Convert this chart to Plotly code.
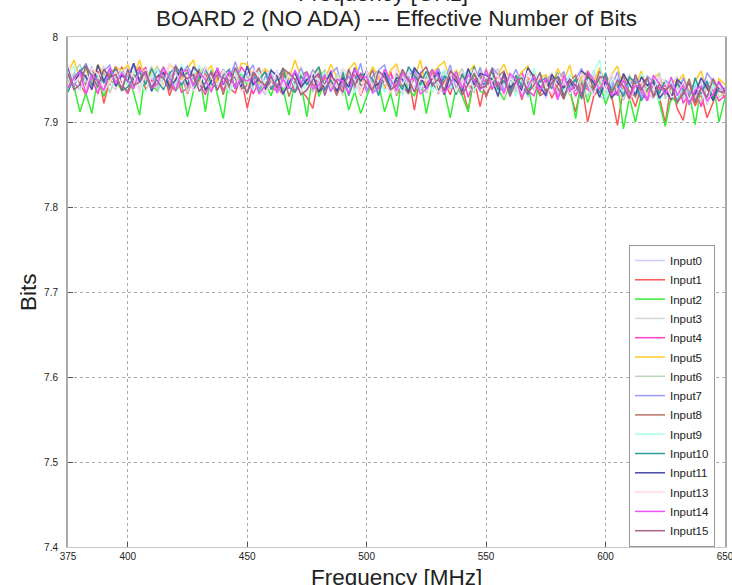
import plotly.graph_objects as go

freq_mhz = [375, 377.5, 380, 382.5, 385, 387.5, 390, 392.5, 395, 397.5,
            400, 402.5, 405, 407.5, 410, 412.5, 415, 417.5, 420, 422.5,
            425, 427.5, 430, 432.5, 435, 437.5, 440, 442.5, 445, 447.5,
            450, 452.5, 455, 457.5, 460, 462.5, 465, 467.5, 470, 472.5,
            475, 477.5, 480, 482.5, 485, 487.5, 490, 492.5, 495, 497.5,
            500, 502.5, 505, 507.5, 510, 512.5, 515, 517.5, 520, 522.5,
            525, 527.5, 530, 532.5, 535, 537.5, 540, 542.5, 545, 547.5,
            550, 552.5, 555, 557.5, 560, 562.5, 565, 567.5, 570, 572.5,
            575, 577.5, 580, 582.5, 585, 587.5, 590, 592.5, 595, 597.5,
            600, 602.5, 605, 607.5, 610, 612.5, 615, 617.5, 620, 622.5,
            625, 627.5, 630, 632.5, 635, 637.5, 640, 642.5, 645, 647.5,
            650]

input0 = [7.954, 7.941, 7.962, 7.947, 7.966, 7.937, 7.952, 7.959, 7.944, 7.963,
          7.963, 7.948, 7.940, 7.957, 7.953, 7.935, 7.959, 7.946, 7.968, 7.947,
          7.940, 7.951, 7.958, 7.943, 7.962, 7.947, 7.937, 7.956, 7.964, 7.942,
          7.940, 7.957, 7.945, 7.932, 7.953, 7.960, 7.937, 7.950, 7.943, 7.965,
          7.947, 7.962, 7.940, 7.951, 7.935, 7.957, 7.944, 7.934, 7.954, 7.949,
          7.953, 7.963, 7.934, 7.949, 7.956, 7.937, 7.951, 7.944, 7.940, 7.959,
          7.956, 7.943, 7.962, 7.935, 7.947, 7.954, 7.931, 7.957, 7.950, 7.938,
          7.942, 7.952, 7.963, 7.936, 7.947, 7.939, 7.957, 7.929, 7.949, 7.954,
          7.928, 7.946, 7.953, 7.959, 7.936, 7.949, 7.939, 7.945, 7.955, 7.930,
          7.927, 7.946, 7.942, 7.952, 7.931, 7.944, 7.956, 7.934, 7.928, 7.947,
          7.946, 7.924, 7.939, 7.951, 7.932, 7.927, 7.942, 7.949, 7.926, 7.936,
          7.935]
input1 = [7.940, 7.957, 7.945, 7.932, 7.953, 7.960, 7.922, 7.950, 7.943, 7.965,
          7.944, 7.954, 7.965, 7.938, 7.949, 7.941, 7.959, 7.931, 7.951, 7.956,
          7.933, 7.952, 7.948, 7.958, 7.937, 7.950, 7.962, 7.940, 7.934, 7.953,
          7.916, 7.946, 7.953, 7.938, 7.957, 7.942, 7.932, 7.951, 7.959, 7.937,
          7.929, 7.916, 7.954, 7.960, 7.937, 7.950, 7.940, 7.946, 7.956, 7.931,
          7.948, 7.935, 7.956, 7.941, 7.960, 7.931, 7.946, 7.953, 7.914, 7.957,
          7.944, 7.959, 7.937, 7.948, 7.932, 7.954, 7.941, 7.914, 7.951, 7.918,
          7.951, 7.938, 7.957, 7.930, 7.942, 7.949, 7.926, 7.952, 7.945, 7.933,
          7.950, 7.928, 7.943, 7.955, 7.936, 7.912, 7.946, 7.900, 7.930, 7.940,
          7.946, 7.931, 7.896, 7.940, 7.936, 7.918, 7.942, 7.929, 7.951, 7.930,
          7.899, 7.945, 7.916, 7.902, 7.938, 7.919, 7.933, 7.905, 7.922, 7.941,
          7.928]
input2 = [7.955, 7.942, 7.912, 7.934, 7.910, 7.953, 7.930, 7.956, 7.949, 7.937,
          7.956, 7.934, 7.908, 7.961, 7.942, 7.937, 7.952, 7.959, 7.936, 7.946,
          7.906, 7.936, 7.957, 7.912, 7.961, 7.932, 7.904, 7.954, 7.939, 7.958,
          7.943, 7.958, 7.936, 7.947, 7.931, 7.953, 7.940, 7.908, 7.950, 7.945,
          7.906, 7.959, 7.930, 7.945, 7.952, 7.933, 7.947, 7.914, 7.936, 7.910,
          7.930, 7.949, 7.945, 7.912, 7.934, 7.906, 7.959, 7.937, 7.931, 7.950,
          7.910, 7.945, 7.952, 7.937, 7.905, 7.941, 7.931, 7.912, 7.958, 7.936,
          7.934, 7.951, 7.939, 7.926, 7.947, 7.954, 7.931, 7.944, 7.908, 7.959,
          7.936, 7.946, 7.957, 7.930, 7.941, 7.904, 7.951, 7.923, 7.943, 7.948,
          7.921, 7.939, 7.946, 7.892, 7.929, 7.900, 7.932, 7.938, 7.948, 7.923,
          7.895, 7.930, 7.922, 7.939, 7.935, 7.897, 7.941, 7.928, 7.950, 7.900,
          7.928]
input3 = [7.937, 7.956, 7.952, 7.962, 7.941, 7.954, 7.966, 7.944, 7.938, 7.957,
          7.956, 7.966, 7.937, 7.952, 7.959, 7.940, 7.954, 7.947, 7.943, 7.962,
          7.949, 7.964, 7.942, 7.953, 7.937, 7.959, 7.946, 7.936, 7.956, 7.951,
          7.932, 7.950, 7.957, 7.963, 7.940, 7.953, 7.943, 7.949, 7.959, 7.934,
          7.956, 7.943, 7.962, 7.935, 7.947, 7.954, 7.931, 7.957, 7.950, 7.938,
          7.957, 7.935, 7.950, 7.962, 7.943, 7.938, 7.953, 7.960, 7.937, 7.947,
          7.940, 7.957, 7.945, 7.932, 7.953, 7.960, 7.937, 7.950, 7.943, 7.965,
          7.936, 7.947, 7.954, 7.939, 7.958, 7.943, 7.933, 7.952, 7.960, 7.938,
          7.956, 7.941, 7.933, 7.950, 7.946, 7.928, 7.952, 7.939, 7.961, 7.940,
          7.944, 7.931, 7.952, 7.937, 7.956, 7.927, 7.942, 7.949, 7.934, 7.953,
          7.933, 7.943, 7.954, 7.927, 7.938, 7.930, 7.948, 7.920, 7.940, 7.945,
          7.933]
input4 = [7.961, 7.946, 7.938, 7.955, 7.951, 7.933, 7.957, 7.944, 7.966, 7.945,
          7.933, 7.951, 7.958, 7.964, 7.941, 7.954, 7.944, 7.950, 7.960, 7.935,
          7.940, 7.957, 7.945, 7.932, 7.953, 7.960, 7.937, 7.950, 7.943, 7.965,
          7.955, 7.933, 7.948, 7.960, 7.941, 7.936, 7.951, 7.958, 7.935, 7.945,
          7.949, 7.936, 7.957, 7.942, 7.961, 7.932, 7.947, 7.954, 7.939, 7.958,
          7.936, 7.947, 7.954, 7.939, 7.958, 7.943, 7.933, 7.952, 7.960, 7.938,
          7.942, 7.952, 7.963, 7.936, 7.947, 7.939, 7.957, 7.929, 7.949, 7.954,
          7.930, 7.949, 7.945, 7.955, 7.934, 7.947, 7.959, 7.937, 7.931, 7.950,
          7.947, 7.957, 7.928, 7.943, 7.950, 7.931, 7.945, 7.938, 7.934, 7.953,
          7.938, 7.953, 7.931, 7.942, 7.926, 7.948, 7.935, 7.925, 7.945, 7.940,
          7.943, 7.930, 7.949, 7.922, 7.934, 7.941, 7.918, 7.944, 7.937, 7.925,
          7.931]
input5 = [7.958, 7.973, 7.951, 7.962, 7.946, 7.968, 7.955, 7.945, 7.965, 7.960,
          7.967, 7.954, 7.973, 7.946, 7.958, 7.965, 7.942, 7.968, 7.961, 7.949,
          7.963, 7.973, 7.944, 7.959, 7.966, 7.947, 7.961, 7.954, 7.950, 7.969,
          7.968, 7.953, 7.945, 7.962, 7.958, 7.940, 7.964, 7.951, 7.973, 7.952,
          7.946, 7.957, 7.964, 7.949, 7.968, 7.953, 7.943, 7.962, 7.970, 7.948,
          7.948, 7.965, 7.953, 7.940, 7.961, 7.968, 7.945, 7.958, 7.951, 7.973,
          7.940, 7.958, 7.965, 7.971, 7.948, 7.961, 7.951, 7.957, 7.967, 7.942,
          7.963, 7.941, 7.956, 7.968, 7.949, 7.944, 7.959, 7.966, 7.943, 7.953,
          7.955, 7.942, 7.963, 7.948, 7.967, 7.938, 7.953, 7.960, 7.945, 7.964,
          7.945, 7.955, 7.966, 7.939, 7.950, 7.942, 7.960, 7.932, 7.952, 7.957,
          7.931, 7.950, 7.946, 7.956, 7.935, 7.948, 7.960, 7.938, 7.932, 7.951,
          7.944]
input6 = [7.947, 7.957, 7.968, 7.941, 7.952, 7.944, 7.962, 7.934, 7.954, 7.959,
          7.954, 7.941, 7.962, 7.947, 7.966, 7.937, 7.952, 7.959, 7.944, 7.963,
          7.934, 7.952, 7.959, 7.965, 7.942, 7.955, 7.945, 7.951, 7.961, 7.936,
          7.956, 7.943, 7.962, 7.935, 7.947, 7.954, 7.931, 7.957, 7.950, 7.938,
          7.957, 7.935, 7.950, 7.962, 7.943, 7.938, 7.953, 7.960, 7.937, 7.947,
          7.960, 7.945, 7.937, 7.954, 7.950, 7.932, 7.956, 7.943, 7.965, 7.944,
          7.934, 7.953, 7.949, 7.959, 7.938, 7.951, 7.963, 7.941, 7.935, 7.954,
          7.951, 7.961, 7.932, 7.947, 7.954, 7.935, 7.949, 7.942, 7.938, 7.957,
          7.943, 7.958, 7.936, 7.947, 7.931, 7.953, 7.940, 7.930, 7.950, 7.945,
          7.933, 7.950, 7.938, 7.925, 7.946, 7.953, 7.930, 7.943, 7.936, 7.958,
          7.927, 7.938, 7.945, 7.930, 7.949, 7.934, 7.924, 7.943, 7.951, 7.929,
          7.935]
input7 = [7.964, 7.942, 7.957, 7.969, 7.950, 7.945, 7.960, 7.967, 7.944, 7.954,
          7.954, 7.969, 7.947, 7.958, 7.942, 7.964, 7.951, 7.941, 7.961, 7.956,
          7.966, 7.951, 7.943, 7.960, 7.956, 7.938, 7.962, 7.949, 7.971, 7.950,
          7.957, 7.967, 7.938, 7.953, 7.960, 7.941, 7.955, 7.948, 7.944, 7.963,
          7.944, 7.961, 7.949, 7.936, 7.957, 7.964, 7.941, 7.954, 7.947, 7.969,
          7.936, 7.954, 7.961, 7.967, 7.944, 7.957, 7.947, 7.953, 7.963, 7.938,
          7.955, 7.942, 7.963, 7.948, 7.967, 7.938, 7.953, 7.960, 7.945, 7.964,
          7.942, 7.964, 7.956, 7.937, 7.947, 7.962, 7.943, 7.958, 7.951, 7.940,
          7.934, 7.953, 7.949, 7.959, 7.938, 7.951, 7.963, 7.941, 7.935, 7.954,
          7.953, 7.940, 7.959, 7.932, 7.944, 7.951, 7.928, 7.954, 7.947, 7.935,
          7.949, 7.944, 7.924, 7.952, 7.934, 7.942, 7.931, 7.958, 7.947, 7.937,
          7.940]
input8 = [7.940, 7.951, 7.958, 7.943, 7.962, 7.947, 7.937, 7.956, 7.964, 7.942,
          7.936, 7.955, 7.951, 7.961, 7.940, 7.953, 7.965, 7.943, 7.937, 7.956,
          7.957, 7.944, 7.963, 7.936, 7.948, 7.955, 7.932, 7.958, 7.951, 7.939,
          7.943, 7.953, 7.964, 7.937, 7.948, 7.940, 7.958, 7.930, 7.950, 7.955,
          7.959, 7.944, 7.936, 7.953, 7.949, 7.931, 7.955, 7.942, 7.964, 7.943,
          7.946, 7.961, 7.939, 7.950, 7.934, 7.956, 7.943, 7.933, 7.953, 7.948,
          7.952, 7.962, 7.933, 7.948, 7.955, 7.936, 7.950, 7.943, 7.939, 7.958,
          7.929, 7.947, 7.954, 7.960, 7.937, 7.950, 7.940, 7.946, 7.956, 7.931,
          7.935, 7.952, 7.940, 7.927, 7.948, 7.955, 7.932, 7.945, 7.938, 7.960,
          7.949, 7.927, 7.942, 7.954, 7.935, 7.930, 7.945, 7.952, 7.929, 7.939,
          7.939, 7.926, 7.947, 7.932, 7.951, 7.922, 7.937, 7.944, 7.929, 7.948,
          7.933]
input9 = [7.956, 7.966, 7.937, 7.952, 7.959, 7.940, 7.954, 7.947, 7.943, 7.962,
          7.943, 7.960, 7.948, 7.935, 7.956, 7.963, 7.940, 7.953, 7.946, 7.968,
          7.946, 7.956, 7.967, 7.940, 7.951, 7.943, 7.961, 7.933, 7.953, 7.958,
          7.951, 7.938, 7.959, 7.944, 7.963, 7.934, 7.949, 7.956, 7.941, 7.960,
          7.934, 7.953, 7.949, 7.959, 7.938, 7.951, 7.963, 7.941, 7.935, 7.954,
          7.956, 7.943, 7.962, 7.935, 7.947, 7.954, 7.931, 7.957, 7.950, 7.938,
          7.957, 7.935, 7.950, 7.962, 7.943, 7.938, 7.953, 7.960, 7.937, 7.947,
          7.958, 7.943, 7.935, 7.952, 7.948, 7.930, 7.954, 7.941, 7.963, 7.942,
          7.934, 7.945, 7.952, 7.937, 7.956, 7.941, 7.931, 7.950, 7.958, 7.973,
          7.927, 7.952, 7.942, 7.936, 7.946, 7.933, 7.956, 7.950, 7.943, 7.925,
          7.936, 7.951, 7.929, 7.940, 7.924, 7.946, 7.933, 7.923, 7.943, 7.938,
          7.935]
input10 = [7.935, 7.953, 7.960, 7.966, 7.943, 7.956, 7.946, 7.952, 7.962, 7.937,
           7.941, 7.952, 7.959, 7.944, 7.963, 7.948, 7.938, 7.957, 7.965, 7.943,
           7.959, 7.937, 7.952, 7.964, 7.945, 7.940, 7.955, 7.962, 7.939, 7.949,
           7.934, 7.953, 7.949, 7.959, 7.938, 7.951, 7.963, 7.941, 7.935, 7.954,
           7.944, 7.954, 7.965, 7.938, 7.949, 7.941, 7.959, 7.931, 7.951, 7.956,
           7.956, 7.951, 7.931, 7.959, 7.941, 7.949, 7.938, 7.965, 7.954, 7.944,
           7.960, 7.945, 7.937, 7.954, 7.950, 7.932, 7.956, 7.943, 7.965, 7.944,
           7.945, 7.960, 7.938, 7.949, 7.933, 7.955, 7.942, 7.932, 7.952, 7.947,
           7.952, 7.939, 7.958, 7.931, 7.943, 7.950, 7.927, 7.953, 7.946, 7.934,
           7.958, 7.936, 7.943, 7.930, 7.953, 7.946, 7.925, 7.938, 7.950, 7.933,
           7.949, 7.930, 7.945, 7.938, 7.923, 7.952, 7.933, 7.948, 7.927, 7.940,
           7.936]
input11 = [7.964, 7.945, 7.960, 7.953, 7.938, 7.967, 7.948, 7.963, 7.942, 7.955,
           7.948, 7.969, 7.947, 7.960, 7.936, 7.954, 7.958, 7.941, 7.949, 7.964,
           7.943, 7.965, 7.957, 7.938, 7.948, 7.963, 7.944, 7.959, 7.952, 7.941,
           7.966, 7.944, 7.951, 7.938, 7.961, 7.954, 7.933, 7.946, 7.958, 7.941,
           7.950, 7.955, 7.935, 7.945, 7.958, 7.936, 7.952, 7.941, 7.963, 7.948,
           7.960, 7.941, 7.945, 7.958, 7.938, 7.952, 7.950, 7.935, 7.964, 7.954,
           7.939, 7.951, 7.958, 7.932, 7.955, 7.948, 7.936, 7.963, 7.944, 7.957,
           7.955, 7.950, 7.930, 7.958, 7.940, 7.948, 7.937, 7.964, 7.953, 7.943,
           7.931, 7.956, 7.946, 7.940, 7.950, 7.937, 7.960, 7.954, 7.947, 7.929,
           7.948, 7.929, 7.935, 7.957, 7.945, 7.932, 7.953, 7.943, 7.947, 7.928,
           7.937, 7.927, 7.950, 7.943, 7.928, 7.933, 7.952, 7.940, 7.925, 7.947,
           7.936]
input13 = [7.968, 7.946, 7.953, 7.940, 7.963, 7.956, 7.935, 7.948, 7.960, 7.943,
           7.959, 7.954, 7.934, 7.962, 7.944, 7.952, 7.941, 7.968, 7.957, 7.947,
           7.956, 7.937, 7.943, 7.965, 7.953, 7.940, 7.961, 7.951, 7.955, 7.936,
           7.940, 7.962, 7.954, 7.935, 7.945, 7.960, 7.941, 7.956, 7.949, 7.938,
           7.934, 7.959, 7.949, 7.943, 7.953, 7.940, 7.963, 7.957, 7.950, 7.932,
           7.960, 7.941, 7.956, 7.949, 7.934, 7.963, 7.944, 7.959, 7.938, 7.951,
           7.949, 7.954, 7.934, 7.944, 7.957, 7.935, 7.951, 7.940, 7.962, 7.947,
           7.936, 7.948, 7.955, 7.929, 7.952, 7.945, 7.933, 7.960, 7.941, 7.954,
           7.943, 7.933, 7.956, 7.949, 7.934, 7.939, 7.958, 7.946, 7.931, 7.953,
           7.937, 7.958, 7.936, 7.949, 7.925, 7.943, 7.947, 7.930, 7.938, 7.953,
           7.948, 7.929, 7.933, 7.946, 7.926, 7.940, 7.938, 7.923, 7.952, 7.942,
           7.934]
input14 = [7.940, 7.952, 7.959, 7.933, 7.956, 7.949, 7.937, 7.964, 7.945, 7.958,
           7.949, 7.939, 7.962, 7.955, 7.940, 7.945, 7.964, 7.952, 7.937, 7.959,
           7.961, 7.942, 7.957, 7.950, 7.935, 7.964, 7.945, 7.960, 7.939, 7.952,
           7.948, 7.953, 7.933, 7.943, 7.956, 7.934, 7.950, 7.939, 7.961, 7.946,
           7.958, 7.939, 7.943, 7.956, 7.936, 7.950, 7.948, 7.933, 7.962, 7.952,
           7.953, 7.934, 7.940, 7.962, 7.950, 7.937, 7.958, 7.948, 7.952, 7.933,
           7.939, 7.961, 7.953, 7.934, 7.944, 7.959, 7.940, 7.955, 7.948, 7.937,
           7.962, 7.940, 7.947, 7.934, 7.957, 7.950, 7.929, 7.942, 7.954, 7.937,
           7.951, 7.946, 7.926, 7.954, 7.936, 7.944, 7.933, 7.960, 7.949, 7.939,
           7.951, 7.932, 7.936, 7.949, 7.929, 7.943, 7.941, 7.926, 7.955, 7.945,
           7.932, 7.953, 7.931, 7.944, 7.920, 7.938, 7.942, 7.925, 7.933, 7.948,
           7.933]
input15 = [7.957, 7.938, 7.944, 7.966, 7.954, 7.941, 7.962, 7.952, 7.956, 7.937,
           7.962, 7.943, 7.947, 7.960, 7.940, 7.954, 7.952, 7.937, 7.966, 7.956,
           7.951, 7.956, 7.936, 7.946, 7.959, 7.937, 7.953, 7.942, 7.964, 7.949,
           7.934, 7.959, 7.949, 7.943, 7.953, 7.940, 7.963, 7.957, 7.950, 7.932,
           7.938, 7.950, 7.957, 7.931, 7.954, 7.947, 7.935, 7.962, 7.943, 7.956,
           7.947, 7.937, 7.960, 7.953, 7.938, 7.943, 7.962, 7.950, 7.935, 7.957,
           7.965, 7.943, 7.950, 7.937, 7.960, 7.953, 7.932, 7.945, 7.957, 7.940,
           7.942, 7.963, 7.941, 7.954, 7.930, 7.948, 7.952, 7.935, 7.943, 7.958,
           7.934, 7.946, 7.953, 7.927, 7.950, 7.943, 7.931, 7.958, 7.939, 7.952,
           7.953, 7.934, 7.949, 7.942, 7.927, 7.956, 7.937, 7.952, 7.931, 7.944,
           7.938, 7.943, 7.923, 7.933, 7.946, 7.924, 7.940, 7.929, 7.951, 7.936,
           7.935]

series_names = ["Input0", "Input1", "Input2", "Input3", "Input4", "Input5",
                "Input6", "Input7", "Input8", "Input9", "Input10", "Input11",
                "Input13", "Input14", "Input15"]
series_values = [input0, input1, input2, input3, input4, input5, input6,
                 input7, input8, input9, input10, input11, input13, input14,
                 input15]
series_colors = ["#c8c8ff", "#ff5555", "#33ee33", "#d6d6d6", "#ff44c8",
                 "#ffcc22", "#bcd6bc", "#9a9aff", "#b87266", "#a8ffe8",
                 "#2f9a9a", "#4a4aa8", "#ffd8ee", "#ee55ff", "#a86088"]

y_tickvals = [7.4, 7.5, 7.6, 7.7, 7.8, 7.9, 8.0]
y_ticktext = ["7.4", "7.5", "7.6", "7.7", "7.8", "7.9", "8"]
x_tickvals = [375, 400, 450, 500, 550, 600, 650]
x_ticktext = ["375", "400", "450", "500", "550", "600", "650"]

fig = go.Figure()
for name, vals, col in zip(series_names, series_values, series_colors):
    fig.add_trace(go.Scatter(x=freq_mhz, y=vals, mode="lines", name=name,
                             legendgroup=name,
                             line=dict(color=col, width=1.5)))

fig.update_layout(
    width=732, height=585,
    margin=dict(l=68, r=7, t=37, b=38),
    paper_bgcolor="white", plot_bgcolor="white",
    font=dict(family="Liberation Sans, Arial, sans-serif", color="#222"),
    title=dict(text="BOARD 2 (NO ADA) --- Effective Number of Bits",
               x=0.5, xref="paper", xanchor="center",
               y=1 - 18 / 585, yref="container", yanchor="middle",
               font=dict(size=22.5, color="#222")),
    showlegend=True,
    legend=dict(x=(629 - 68) / 657, xanchor="left", y=0.0, yanchor="bottom",
                bgcolor="white", bordercolor="#999", borderwidth=1,
                font=dict(size=11.5, color="#222"), tracegroupgap=0.3,
                itemwidth=30),
    xaxis=dict(range=[375, 650], tickvals=x_tickvals, ticktext=x_ticktext,
               ticks="inside", ticklen=5, tickcolor="#555",
               showgrid=True, gridcolor="#aaaaaa", griddash="dot", gridwidth=1,
               showline=True, mirror=True, linecolor="#c8c8c8", linewidth=1,
               zeroline=False, tickfont=dict(size=10), automargin=False,
               ticklabeloverflow="allow"),
    yaxis=dict(range=[7.4, 8.0], tickvals=y_tickvals, ticktext=y_ticktext,
               ticks="inside", ticklen=5, tickcolor="#555",
               showgrid=True, gridcolor="#aaaaaa", griddash="dot", gridwidth=1,
               showline=True, mirror=True, linecolor="#aaaaaa", linewidth=2,
               zeroline=False, tickfont=dict(size=10), automargin=False,
               ticklabelstandoff=6),
    annotations=[
        dict(text="Frequency [MHz]", xref="paper", yref="paper",
             x=0.5, y=(547 - 577) / 510, xanchor="center", yanchor="middle",
             showarrow=False, font=dict(size=22.5, color="#222")),
        dict(text="Bits", xref="paper", yref="paper",
             x=(28 - 68) / 657, y=0.5, xanchor="center", yanchor="middle",
             textangle=-90, showarrow=False, font=dict(size=22.5, color="#222")),
        dict(text="Frequency [GHz]", xref="paper", yref="paper",
             x=(383 - 68) / 657, y=(547 + 7) / 510, xanchor="center",
             yanchor="middle", showarrow=False,
             font=dict(size=22.5, color="#222")),
    ],
)

fig.write_html(
    "out.html",
    config={"displayModeBar": False},
    post_script="document.body.style.margin='0px';"
                "document.documentElement.style.overflow='hidden';",
)
